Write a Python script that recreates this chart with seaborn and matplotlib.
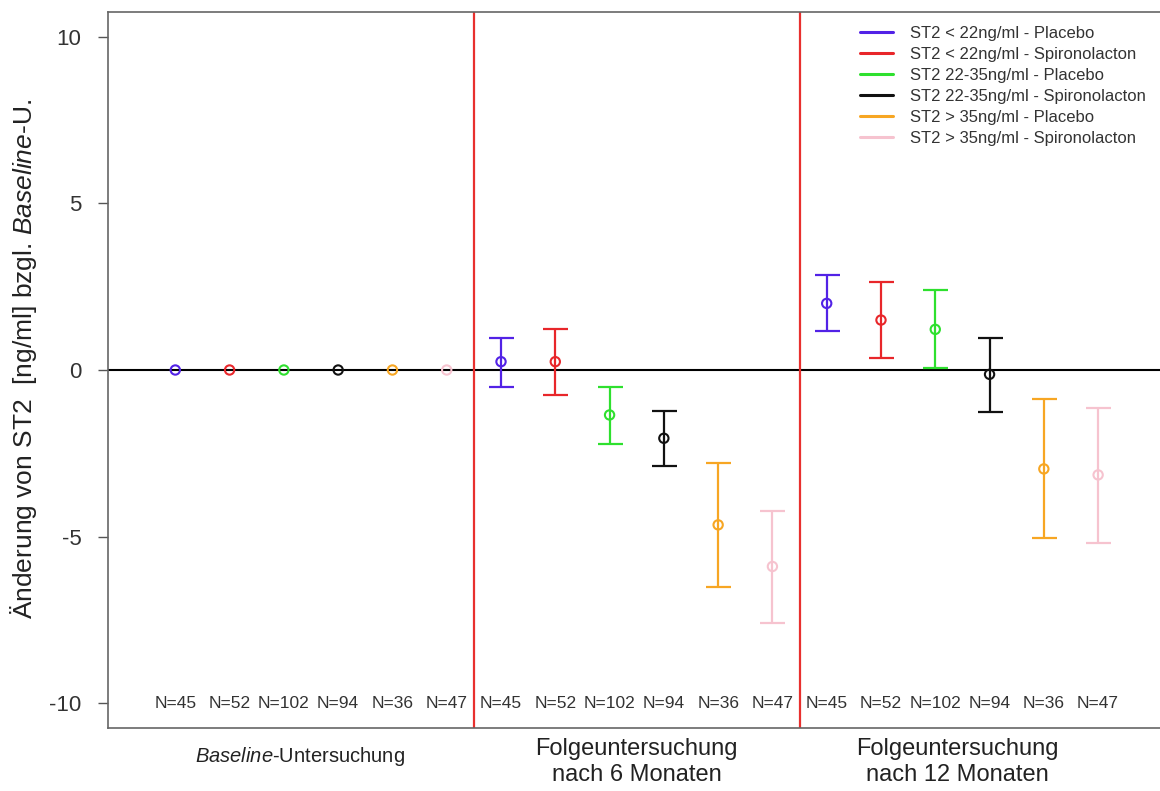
import matplotlib
matplotlib.use("Agg")
import matplotlib.pyplot as plt
import matplotlib.transforms as mtransforms
from matplotlib.lines import Line2D
import pandas as pd
import seaborn as sns

# --- data --------------------------------------------------------------
GROUPS = [
    "ST2 < 22ng/ml - Placebo",
    "ST2 < 22ng/ml - Spironolacton",
    "ST2 22-35ng/ml - Placebo",
    "ST2 22-35ng/ml - Spironolacton",
    "ST2 > 35ng/ml - Placebo",
    "ST2 > 35ng/ml - Spironolacton",
]
GROUP_COLORS = ["#5222e6", "#e8262a", "#2ee02e", "#111111", "#f7a623", "#f6c3cf"]
N_COUNTS = [45, 52, 102, 94, 36, 47]

VISITS = ["baseline", "6m", "12m"]
VISIT_LABELS = [r"$\it{Baseline}$-Untersuchung",
                "Folgeuntersuchung\nnach 6 Monaten",
                "Folgeuntersuchung\nnach 12 Monaten"]

MEAN_BASE = [0.0, 0.0, 0.0, 0.0, 0.0, 0.0]
MEAN_6M = [0.25, 0.25, -1.35, -2.05, -4.65, -5.9]
LOW_6M = [-0.5, -0.75, -2.22, -2.88, -6.53, -7.59]
HIGH_6M = [0.97, 1.23, -0.5, -1.23, -2.8, -4.23]
MEAN_12M = [2.0, 1.5, 1.22, -0.13, -2.97, -3.15]
LOW_12M = [1.17, 0.37, 0.05, -1.25, -5.03, -5.19]
HIGH_12M = [2.85, 2.65, 2.4, 0.97, -0.87, -1.15]

sns.set_theme(style="ticks")
plt.rcParams["font.family"] = ["Liberation Sans", "DejaVu Sans"]
plt.rcParams["mathtext.fontset"] = "custom"
plt.rcParams["mathtext.rm"] = "Liberation Sans"
plt.rcParams["mathtext.it"] = "Liberation Sans:italic"
plt.rcParams["axes.unicode_minus"] = False

rows = []
for vi, (visit, means, lows, highs) in enumerate([
    ("baseline", MEAN_BASE, MEAN_BASE, MEAN_BASE),
    ("6m", MEAN_6M, LOW_6M, HIGH_6M),
    ("12m", MEAN_12M, LOW_12M, HIGH_12M),
]):
    for gi, g in enumerate(GROUPS):
        rows.append({
            "visit": visit,
            "group": g,
            "pos": vi * len(GROUPS) + gi + 1,
            "mean": means[gi],
            "low": lows[gi],
            "high": highs[gi],
            "n": N_COUNTS[gi],
        })
df = pd.DataFrame(rows)
palette = dict(zip(GROUPS, GROUP_COLORS))

fig = plt.figure(figsize=(11.6, 7.91), dpi=100)
ax = fig.add_axes([108 / 1160, 1 - 728 / 791, 1 - 108 / 1160, (728 - 12) / 791])

# reference lines
ax.axhline(0, color="black", lw=1.5, zorder=1)
for xv in [6.5, 12.5]:
    ax.axvline(xv, color="#e8302e", lw=1.6, zorder=1)

# intervals
for _, r in df[df["visit"] != "baseline"].iterrows():
    ax.errorbar(
        r["pos"], r["mean"],
        yerr=[[r["mean"] - r["low"]], [r["high"] - r["mean"]]],
        fmt="none", ecolor=palette[r["group"]], elinewidth=1.6,
        capsize=9, capthick=1.6, zorder=2,
    )

# centre points (open circles)
sns.scatterplot(
    data=df, x="pos", y="mean", hue="group", palette=palette,
    marker="o", s=45, linewidth=1.5, legend=False, ax=ax, zorder=3,
)
pts = ax.collections[-1]
pts.set_edgecolors(pts.get_facecolors())
pts.set_facecolors("none")

# N labels
for _, r in df.iterrows():
    ax.text(r["pos"], -10, f"N={r['n']}", ha="center", va="center",
            fontsize=12.5, color="#333333")

ax.set_xlim(-0.24, 19.14)
ax.set_ylim(-10.75, 10.75)
ax.set_yticks([-10, -5, 0, 5, 10])
ax.set_xticks([])
ax.set_xlabel("")
ax.tick_params(axis="y", length=7, width=1, color="#555555", pad=12,
               labelsize=16, labelcolor="#333333")
for side in ["left", "bottom", "top"]:
    ax.spines[side].set_color("#666666")
    ax.spines[side].set_linewidth(1.2)
ax.spines["right"].set_visible(False)

ax.set_ylabel(r"Änderung von ST2  [ng/ml] bzgl. $\it{Baseline}$-U.",
              fontsize=19, color="#222222")
ax.yaxis.set_label_coords(-0.066, 0.515)

# visit labels under the axis
trans = mtransforms.blended_transform_factory(ax.transData, fig.transFigure)
for vi, lab in enumerate(VISIT_LABELS):
    xc = vi * len(GROUPS) + 3.5 - (0.2 if vi == 0 else 0.0) - (0.1 if vi == 2 else 0.0)
    yfig = 1 - 757 / 791 if vi == 0 else 1 - 762 / 791
    ax.text(xc, yfig, lab, transform=trans, ha="center", va="center",
            fontsize=17 if vi else 14.5, color="#222222", linespacing=1.2)

handles = [Line2D([0], [0], color=c, lw=2.2) for c in GROUP_COLORS]
fig.legend(handles, GROUPS, loc="upper left",
           bbox_to_anchor=(845 / 1160, 1 - 11 / 791), frameon=False,
           fontsize=12, handlelength=2.0, handletextpad=1.0,
           labelspacing=0.36, labelcolor="#333333")

fig.savefig("out.png", dpi=100)
